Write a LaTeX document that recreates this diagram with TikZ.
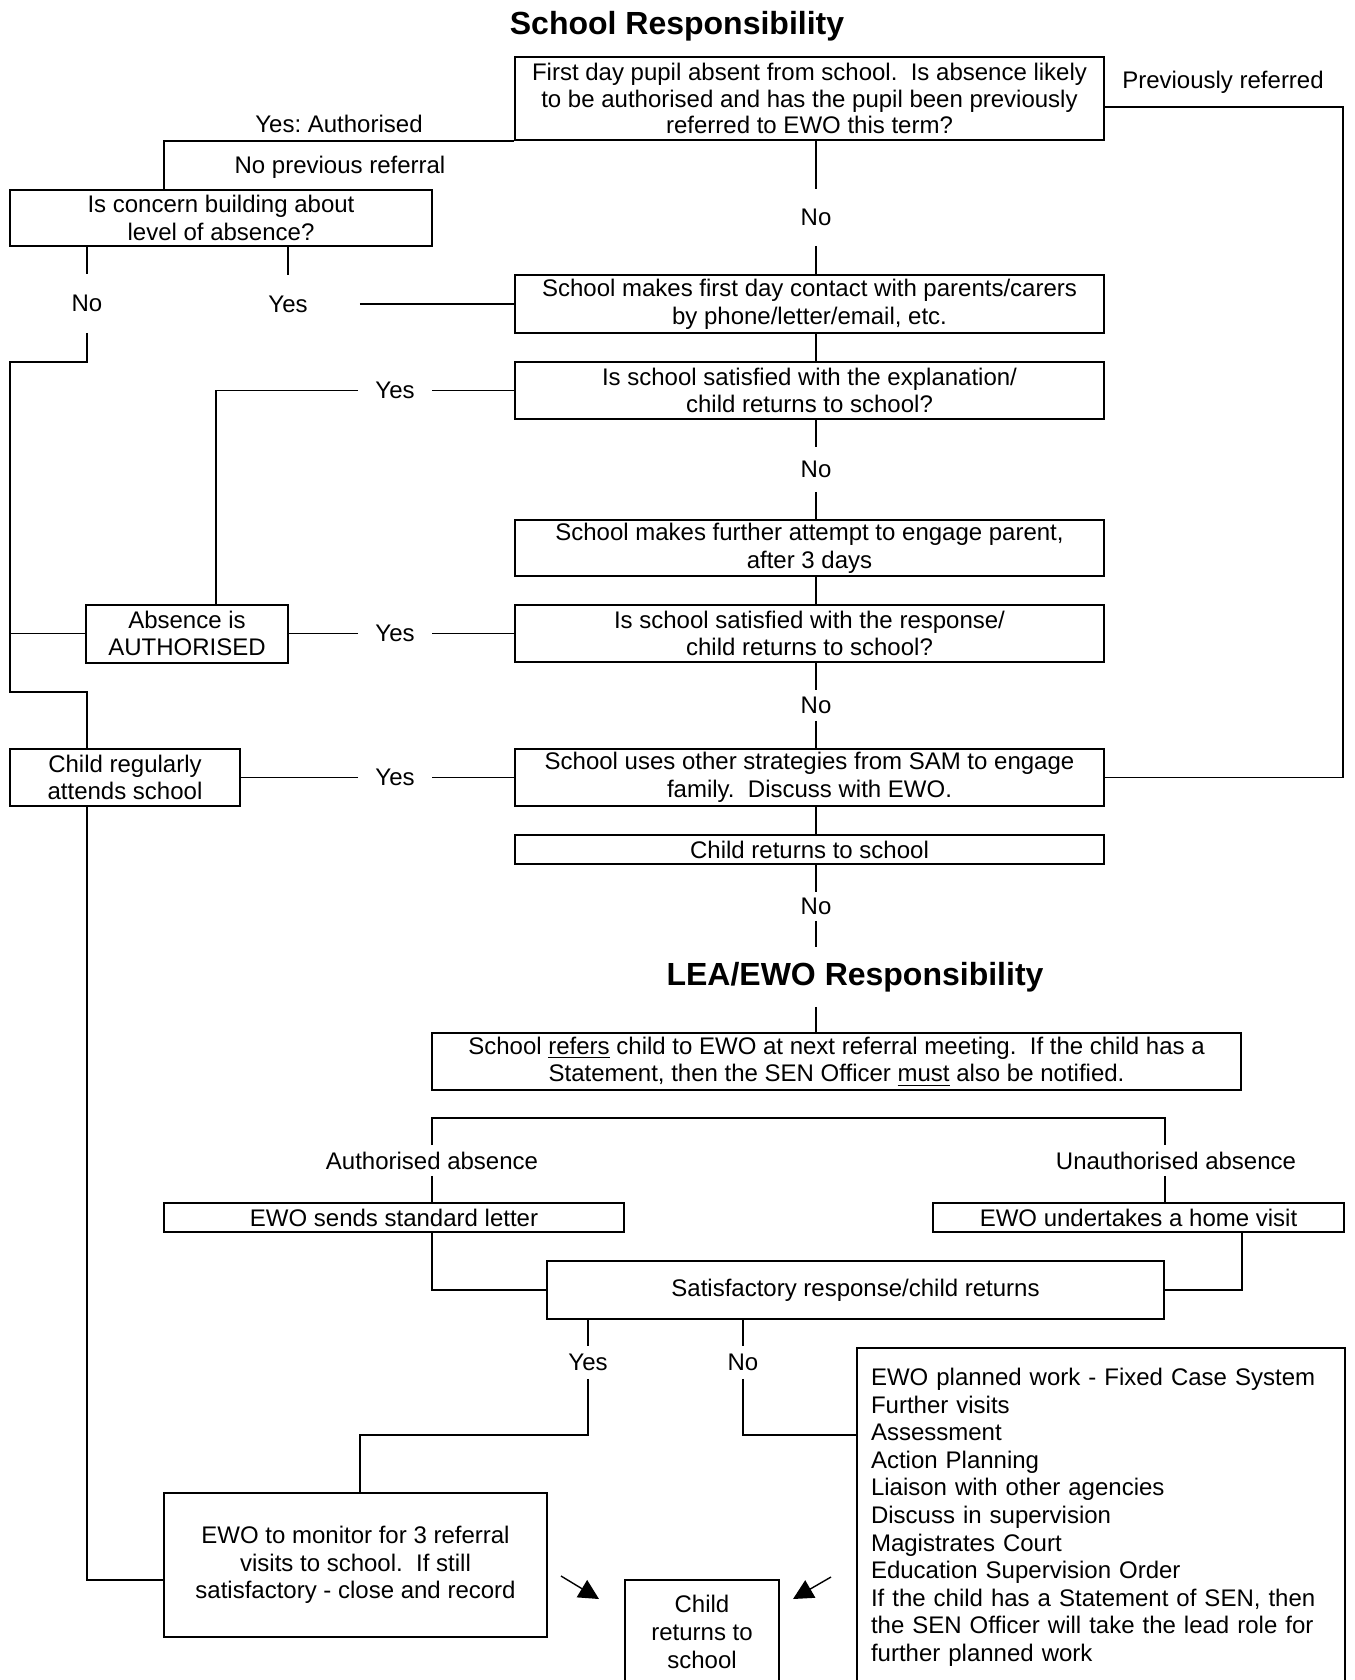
\documentclass[tikz,border=0pt]{standalone}
\usepackage{fontspec}
\setmainfont{Liberation Sans}
\usetikzlibrary{arrows.meta}
\frenchspacing

\begin{document}
\begin{tikzpicture}[x=0.5pt, y=-0.5pt, font=\fontsize{12pt}{13.8pt}\selectfont, line width=0.9pt, >={Triangle[length=10pt,width=10pt]}]
\tikzset{
  box/.style={rectangle, draw, line width=1pt, align=center, inner sep=0pt},
  wide/.style={box, minimum width=294.5pt},
  lbl/.style={inner sep=0pt, align=center},
  head/.style={inner sep=0pt, font=\fontsize{16pt}{19pt}\selectfont\bfseries}
}
\clip (0,0) rectangle (1354,1680);
\node[head] (t1) at (677,26) {School Responsibility};
\node[wide, minimum height=41.5pt, font=\fontsize{12pt}{13.3pt}\selectfont] (first) at (809.5,98.5) {First day pupil absent from school.\ \ Is absence likely\\ to be authorised and has the pupil been previously\\ referred to EWO this term?};
\node[box, minimum width=211pt, minimum height=28pt] (concern) at (221,218) {Is concern building about\\ level of absence?};
\node[wide, minimum height=29pt]   (contact) at (809.5,304)   {School makes first day contact with parents/carers\\ by phone/letter/email, etc.};
\node[wide, minimum height=28.5pt] (satexp)  at (809.5,390.5) {Is school satisfied with the explanation/\\ child returns to school?};
\node[wide, minimum height=28pt]   (further) at (809.5,548)   {School makes further attempt to engage parent,\\ after 3 days};
\node[wide, minimum height=28.5pt] (satresp) at (809.5,633.5) {Is school satisfied with the response/\\ child returns to school?};
\node[box, minimum width=101pt, minimum height=29pt] (auth) at (187,633.5) {Absence is\\ AUTHORISED};
\node[wide, minimum height=28.5pt] (uses)    at (809.5,777.5) {School uses other strategies from SAM to engage\\ family.\ \ Discuss with EWO.};
\node[box, minimum width=115pt, minimum height=28.5pt] (reg) at (125,777.5) {Child regularly\\ attends school};
\node[wide, minimum height=14.5pt] (back)    at (809.5,849.5) {Child returns to school};
\node[head, minimum height=29pt] (t2) at (855,977) {LEA/EWO Responsibility};
\node[box, minimum width=404.5pt, minimum height=28.5pt] (refers) at (836.5,1061.5) {School \underline{refers} child to EWO at next referral meeting.\ \ If the child has a\\ Statement, then the SEN Officer \underline{must} also be notified.};
\node[box, minimum width=230pt, minimum height=14.5pt] (letter) at (394,1217.5) {EWO sends standard letter};
\node[box, minimum width=205.5pt, minimum height=14.5pt] (home) at (1138.5,1217.5) {EWO undertakes a home visit};
\node[box, minimum width=308.5pt, minimum height=29pt] (satisf) at (855.5,1290) {Satisfactory response/child returns};
\node[box, minimum width=191.5pt, minimum height=72pt] (monitor) at (355.5,1565) {EWO to monitor for 3 referral\\ visits to school.\ \ If still\\ satisfactory - close and record};
\node[box, anchor=north, minimum width=77pt, minimum height=52pt] (ret) at (702,1579) {Child\\ returns to\\ school};
\node[box, anchor=north west, align=left, text width=230pt, inner xsep=7pt, inner ysep=10pt] (plan) at (856,1347) {EWO planned work - Fixed Case System\\ Further visits\\ Assessment\\ Action Planning\\ Liaison with other agencies\\ Discuss in supervision\\ Magistrates Court\\ Education Supervision Order\\ If the child has a Statement of SEN, then\\ the SEN Officer will take the lead role for\\ further planned work};

\node[lbl] (prev)   at (1223,82)  {Previously referred};
\node[lbl] (yauth)  at (339,124)  {Yes: Authorised};
\node[lbl] (noprev) at (340,167)  {No previous referral};
\node[lbl, minimum height=27.5pt] (no1) at (816,217.5) {No};
\node[lbl, minimum height=28.5pt] (no0) at (87,303.5) {No};
\node[lbl, minimum height=28pt, minimum width=71pt] (yes0) at (288,304) {Yes};
\node[lbl, minimum width=36pt] (yes2) at (395,390.5) {Yes};
\node[lbl, minimum height=21.5pt] (no2) at (816,469.5) {No};
\node[lbl, minimum width=36pt] (yes3) at (395,633.5) {Yes};
\node[lbl, minimum height=14.5pt] (no3) at (816,705.5) {No};
\node[lbl, minimum width=36pt] (yes4) at (395,777.5) {Yes};
\node[lbl, minimum height=13.5pt] (no4) at (816,906.5) {No};
\node[lbl, minimum height=14.5pt] (aa) at (432,1160.5) {Authorised absence};
\node[lbl, minimum height=14.5pt] (ua) at (1176,1160.5) {Unauthorised absence};
\node[lbl, minimum height=15.5pt] (yes5) at (588,1362.5) {Yes};
\node[lbl, minimum height=15.5pt] (no5) at (743,1362.5) {No};

\coordinate (ya)  at (164,0);
\coordinate (lb1) at (10,362);
\coordinate (lb2) at (10,692);
\coordinate (a2)  at (216,0);
\coordinate (pr1) at (1343,107);
\coordinate (ml)  at (0,1580);
\coordinate (sp)  at (0,1118);
\coordinate (yb)  at (360,1435);
\coordinate (nb)  at (0,1435);
\coordinate (arL) at (561,1576); \coordinate (arLt) at (599,1599);
\coordinate (arR) at (831,1577); \coordinate (arRt) at (793,1599);

\draw (first.south -| no1)--(no1.north); \draw (no1.south)--(contact.north -| no1);
\draw (contact.south -| no1)--(satexp.north -| no1);
\draw (satexp.south -| no1)--(no2.north); \draw (no2.south)--(further.north -| no2);
\draw (further.south -| no1)--(satresp.north -| no1);
\draw (satresp.south -| no1)--(no3.north); \draw (no3.south)--(uses.north -| no3);
\draw (uses.south -| no1)--(back.north -| no1);
\draw (back.south -| no1)--(no4.north); \draw (no4.south)--(no4.south |- t2.north);
\draw (t2.south -| no4)--(refers.north -| no4);
\draw (first.south west) -| (concern.north -| ya);
\draw (concern.south -| no0)--(no0.north); \draw (no0.south) |- (lb1)--(lb2) -| (reg.north -| no0);
\draw (lb1 |- auth.west)--(auth.west);
\draw (concern.south -| yes0)--(yes0.north); \draw (yes0.east)--(contact.west);
\draw (satexp.west)--(yes2.east); \draw (yes2.west) -| (auth.north -| a2);
\draw (satresp.west)--(yes3.east); \draw (yes3.west)--(auth.east);
\draw (uses.west)--(yes4.east); \draw (yes4.west)--(reg.east);
\draw (first.east |- pr1)--(pr1) |- (uses.east);
\draw (reg.south -| no0) |- (monitor.west |- ml);
\draw (aa.north)--(aa.north |- sp) -| (ua.north -| satisf.east);
\draw (aa.south)--(letter.north -| aa); \draw (ua.south -| satisf.east)--(home.north -| satisf.east);
\draw (letter.south -| aa) |- (satisf.west); \draw (home.south -| refers.east) |- (satisf.east);
\draw (satisf.south -| yes5)--(yes5.north); \draw (yes5.south) |- (yb)--(monitor.north -| yb);
\draw (satisf.south -| no5)--(no5.north); \draw (no5.south) |- (plan.west |- nb);
\draw[->, line width=0.7pt] (arL)--(arLt); \draw[->, line width=0.7pt] (arR)--(arRt);
\end{tikzpicture}
\end{document}
